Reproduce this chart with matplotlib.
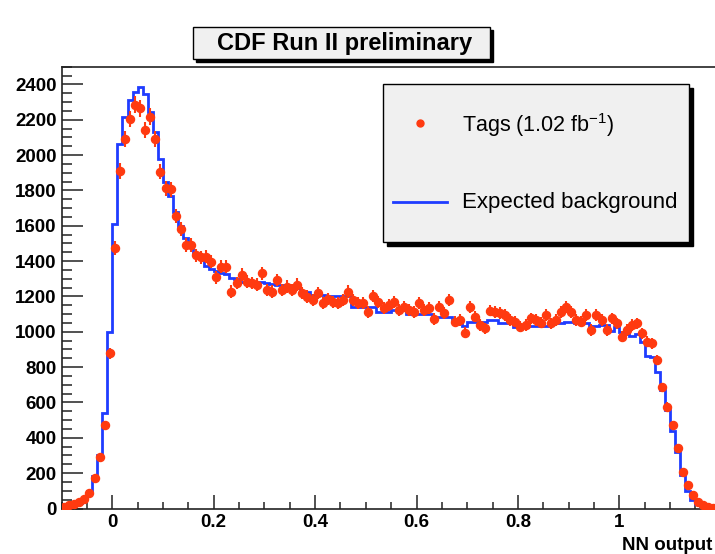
import numpy as np
import matplotlib
matplotlib.use("Agg")
import matplotlib.pyplot as plt
from matplotlib.patches import Rectangle
from matplotlib.lines import Line2D
from matplotlib.ticker import MultipleLocator

plt.rcParams['font.family'] = ['Liberation Sans', 'DejaVu Sans']
plt.rcParams['mathtext.fontset'] = 'custom'
plt.rcParams['mathtext.rm'] = 'Liberation Sans'

# histogram binning of the NN output
bin_lo = -0.1
bin_width = 0.01

tags = [10, 18, 26, 36, 55, 88, 170, 290, 472, 878,
        1474, 1910, 2091, 2203, 2284, 2265, 2142, 2218, 2090, 1906,
        1812, 1807, 1656, 1582, 1491, 1490, 1432, 1421, 1425, 1397,
        1308, 1369, 1369, 1227, 1275, 1322, 1284, 1275, 1266, 1331,
        1237, 1227, 1293, 1237, 1256, 1237, 1266, 1218, 1199, 1180,
        1218, 1161, 1185, 1171, 1161, 1180, 1227, 1180, 1161, 1161,
        1114, 1203, 1171, 1133, 1152, 1171, 1124, 1143, 1124, 1114,
        1161, 1124, 1133, 1071, 1143, 1105, 1180, 1057, 1067, 995,
        1142, 1086, 1039, 1020, 1120, 1114, 1105, 1095, 1067, 1058,
        1029, 1039, 1076, 1067, 1052, 1095, 1048, 1067, 1114, 1142,
        1114, 1067, 1058, 1095, 1010, 1095, 1067, 1010, 1076, 1048,
        973, 1010, 1039, 1048, 991, 944, 935, 841, 686, 576,
        473, 341, 208, 133, 76, 39, 20, 10, 5]

# expected background per bin
background = [8, 12, 20, 32, 55, 100, 185, 300, 540, 1000,
              1610, 2061, 2214, 2312, 2359, 2384, 2346, 2246, 2133, 1976,
              1850, 1770, 1680, 1600, 1530, 1480, 1440, 1420, 1375, 1355,
              1345, 1331, 1325, 1303, 1300, 1284, 1284, 1282, 1280, 1284,
              1275, 1272, 1266, 1266, 1262, 1246, 1246, 1227, 1227, 1208,
              1208, 1208, 1203, 1203, 1200, 1203, 1203, 1143, 1143, 1143,
              1143, 1143, 1114, 1114, 1114, 1124, 1124, 1124, 1101, 1101,
              1101, 1101, 1101, 1082, 1082, 1082, 1082, 1071, 1057, 1033,
              1058, 1058, 1058, 1058, 1067, 1067, 1048, 1048, 1048, 1029,
              1029, 1029, 1033, 1033, 1033, 1033, 1052, 1052, 1052, 1058,
              1058, 1048, 1048, 1048, 1033, 1033, 1039, 1039, 1005, 1025,
              1000, 985, 976, 985, 944, 865, 860, 774, 671, 558,
              440, 320, 190, 100, 50, 25, 12, 6, 3]

tags = np.array(tags, dtype=float)
background = np.array(background, dtype=float)
edges = bin_lo + bin_width * np.arange(len(tags) + 1)
centers = 0.5 * (edges[:-1] + edges[1:])

red = '#ff3a10'
blue = '#1f3cff'

fig = plt.figure(figsize=(7.15, 5.54), dpi=100)
ax = fig.add_axes([61.6 / 715, 45.5 / 554, (720.7 - 61.6) / 715, (508.5 - 66.7) / 554])

ax.stairs(background, edges, baseline=None, color=blue, linewidth=2.0, zorder=2)
ax.errorbar(centers, tags, yerr=np.sqrt(tags), xerr=bin_width / 2, fmt='o',
            color=red, ms=5.8, elinewidth=1.5, capsize=0, zorder=3)

ax.set_xlim(-0.1, 1.2)
ax.set_ylim(0, 2500)
ax.xaxis.set_major_locator(MultipleLocator(0.2))
ax.xaxis.set_minor_locator(MultipleLocator(0.05))
ax.yaxis.set_major_locator(MultipleLocator(200))
ax.yaxis.set_minor_locator(MultipleLocator(50))
ax.set_xticks([0, 0.2, 0.4, 0.6, 0.8, 1.0])
ax.set_xticklabels(['0', '0.2', '0.4', '0.6', '0.8', '1'])
ax.tick_params(axis='both', which='both', direction='in', top=False, right=False,
               width=1.1, colors='#222222', labelcolor='black')
ax.tick_params(axis='y', which='major', length=15, pad=3.5)
ax.tick_params(axis='y', which='minor', length=7.5)
ax.tick_params(axis='x', which='major', length=10, pad=4)
ax.tick_params(axis='x', which='minor', length=5)
for lab in ax.get_xticklabels() + ax.get_yticklabels():
    lab.set_fontsize(13.5)
    lab.set_fontweight('bold')
for sp in ax.spines.values():
    sp.set_linewidth(1.2)
    sp.set_color('#222222')

fig.text(0.996, 0.016, 'NN output', ha='right', va='center',
         fontsize=13.5, fontweight='bold')

# title box with shadow
tx, ty, tw, th = 192.7 / 715, 1 - 59.3 / 554, 297.3 / 715, 32 / 554
fig.patches.append(Rectangle((tx + 3 / 715, ty - 3 / 554), tw, th, transform=fig.transFigure,
                             facecolor='black', edgecolor='black', zorder=1))
fig.patches.append(Rectangle((tx, ty), tw, th, transform=fig.transFigure,
                             facecolor='#f0f0f0', edgecolor='black', linewidth=1, zorder=2))
fig.text(tx + tw / 2 + 3 / 715, ty + th / 2, 'CDF Run II preliminary', ha='center', va='center',
         fontsize=17, fontweight='bold', zorder=3)

# legend box with shadow
lx, ly, lw, lh = 382.7 / 715, 1 - 241.7 / 554, 306.3 / 715, 157.7 / 554
fig.patches.append(Rectangle((lx + 4 / 715, ly - 4 / 554), lw, lh, transform=fig.transFigure,
                             facecolor='black', edgecolor='black', zorder=4))
fig.patches.append(Rectangle((lx, ly), lw, lh, transform=fig.transFigure,
                             facecolor='#f0f0f0', edgecolor='black', linewidth=1, zorder=5))
fig.lines.append(Line2D([420 / 715], [1 - 123 / 554], transform=fig.transFigure,
                        marker='o', ms=5, color=red, linestyle='none', zorder=6))
fig.text(462 / 715, 1 - 125 / 554, r'Tags (1.02 fb$^{\mathrm{-1}}$)', ha='left', va='center',
         fontsize=15.5, zorder=6)
fig.lines.append(Line2D([393 / 715, 447 / 715], [1 - 202 / 554, 1 - 202 / 554],
                        transform=fig.transFigure, color=blue, linewidth=2.0, zorder=6))
fig.text(462 / 715, 1 - 202 / 554, 'Expected background', ha='left', va='center',
         fontsize=16, zorder=6)

fig.savefig('out.png', dpi=100)
